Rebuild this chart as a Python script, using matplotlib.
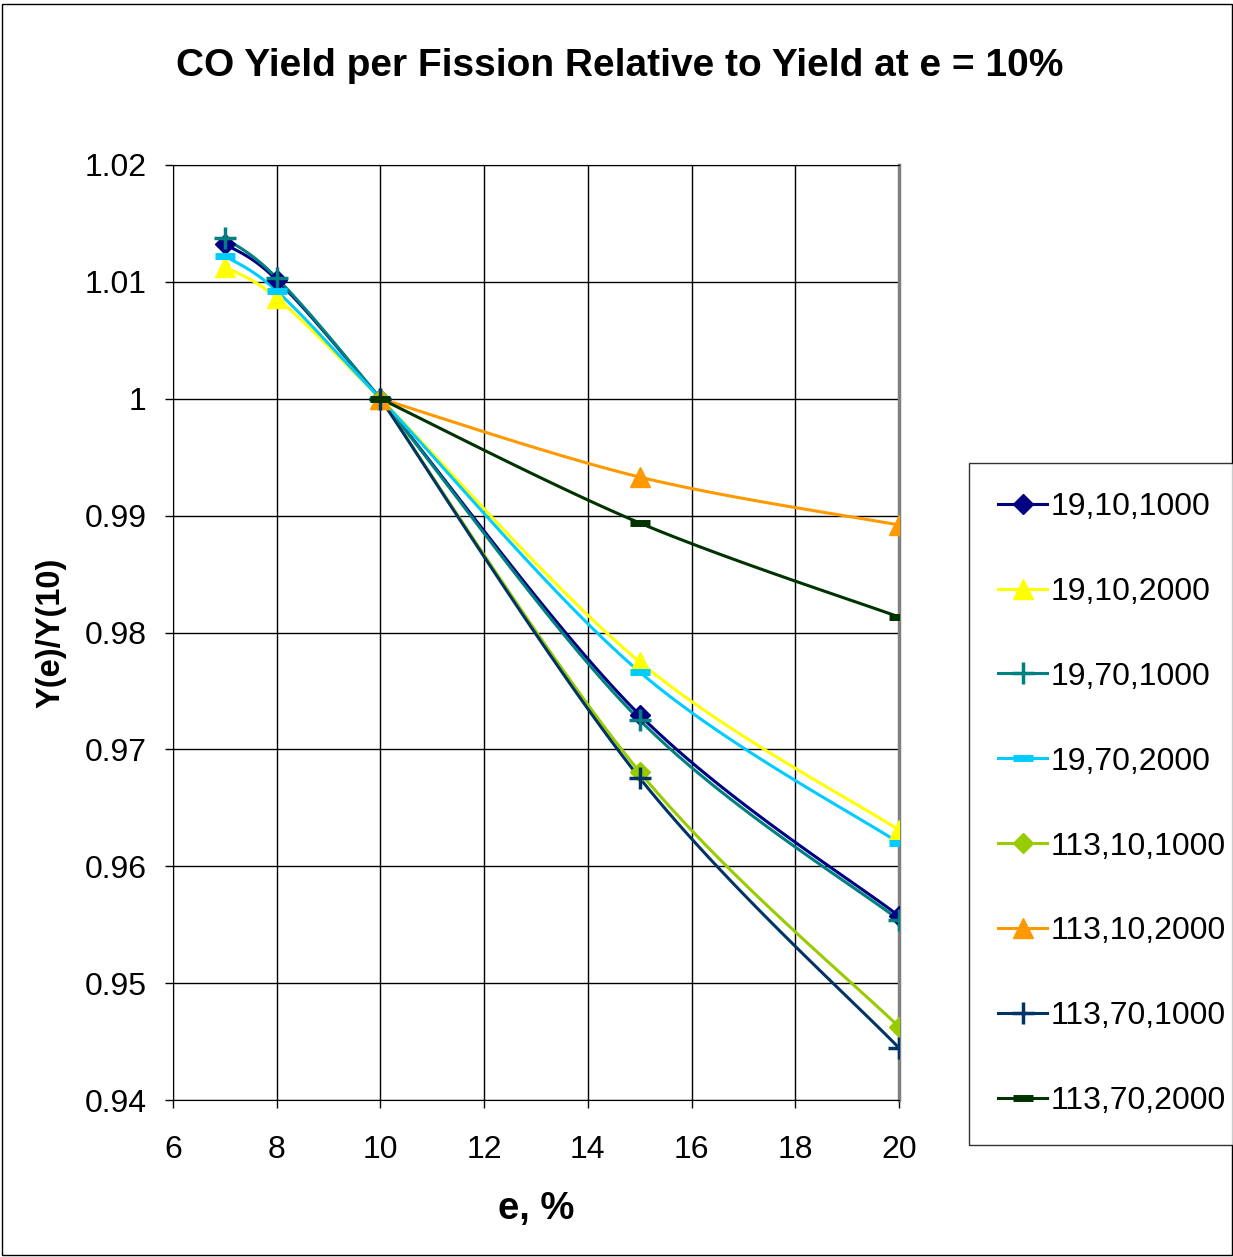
import matplotlib

matplotlib.use("Agg")
import matplotlib.pyplot as plt
import numpy as np
from matplotlib.patches import Rectangle

plt.rcParams["font.family"] = ["Liberation Sans", "DejaVu Sans"]

E_19 = [7, 8, 10, 15, 20]
E_113 = [10, 15, 20]

# relative CO yield Y(e)/Y(10)
Y_19_10_1000 = [1.01324, 1.01016, 1.0, 0.97294, 0.95574]
Y_19_10_2000 = [1.01127, 1.00862, 1.0, 0.97748, 0.96310]
Y_19_70_1000 = [1.01375, 1.01033, 1.0, 0.97251, 0.95540]
Y_19_70_2000 = [1.01221, 1.00922, 1.0, 0.97662, 0.96199]
Y_113_10_1000 = [1.0, 0.96806, 0.94625]
Y_113_10_2000 = [1.0, 0.99330, 0.98920]
Y_113_70_1000 = [1.0, 0.96755, 0.94445]
Y_113_70_2000 = [1.0, 0.98937, 0.98133]

SERIES = [
    ("19,10,1000", E_19, Y_19_10_1000, "#000080", "D", 10, 1),
    ("19,10,2000", E_19, Y_19_10_2000, "#FFFF00", "^", 14, 1),
    ("19,70,1000", E_19, Y_19_70_1000, "#008080", "+", 16, 2.5),
    ("19,70,2000", E_19, Y_19_70_2000, "#00CCFF", "_", 14, 5),
    ("113,10,1000", E_113, Y_113_10_1000, "#99CC00", "D", 10, 1),
    ("113,10,2000", E_113, Y_113_10_2000, "#FF9900", "^", 14, 1),
    ("113,70,1000", E_113, Y_113_70_1000, "#003366", "+", 16, 2.5),
    ("113,70,2000", E_113, Y_113_70_2000, "#003300", "_", 14, 5),
]

XLIM = (6, 20)
YLIM = (0.94, 1.02)


def smooth(x, y, n=30):
    """Catmull-Rom through the points, done in axis-normalised space."""
    pts = np.column_stack([(np.asarray(x) - XLIM[0]) / (XLIM[1] - XLIM[0]),
                           (np.asarray(y) - YLIM[0]) / (YLIM[1] - YLIM[0])])
    if len(pts) < 3:
        return np.asarray(x), np.asarray(y)
    p = np.vstack([pts[0], pts, pts[-1]])
    out = []
    t = np.linspace(0, 1, n)[:, None]
    for i in range(1, len(p) - 2):
        p0, p1, p2, p3 = p[i - 1], p[i], p[i + 1], p[i + 2]
        out.append(0.5 * ((2 * p1) + (-p0 + p2) * t
                          + (2 * p0 - 5 * p1 + 4 * p2 - p3) * t**2
                          + (-p0 + 3 * p1 - 3 * p2 + p3) * t**3))
    out = np.vstack(out)
    return (out[:, 0] * (XLIM[1] - XLIM[0]) + XLIM[0],
            out[:, 1] * (YLIM[1] - YLIM[0]) + YLIM[0])


fig = plt.figure(figsize=(12.33, 12.57), dpi=100)
W, H = 1233, 1257
ax = fig.add_axes([173 / W, 1 - 1100 / H, (899 - 173) / W, (1100 - 165) / H])

handles = []
for label, xs, ys, color, marker, ms, mew in SERIES:
    sx, sy = smooth(xs, ys)
    ax.plot(sx, sy, color=color, lw=2.2, zorder=3)
    ax.plot(xs, ys, ls="none", marker=marker, ms=ms, color=color,
            markeredgewidth=mew, markeredgecolor=color, zorder=4)
    handles.append(plt.Line2D([], [], color=color, lw=2.2, marker=marker,
                              ms=ms, markeredgewidth=mew, markeredgecolor=color,
                              label=label))

ax.set_xlim(*XLIM)
ax.set_ylim(*YLIM)
ax.set_xticks(np.arange(6, 21, 2))
ax.set_yticks(np.arange(0.94, 1.0201, 0.01))
ax.set_yticklabels(["0.94", "0.95", "0.96", "0.97", "0.98", "0.99", "1", "1.01", "1.02"])
ax.grid(True, color="black", lw=1.0)
ax.set_axisbelow(True)
for side in ("left", "bottom", "top"):
    ax.spines[side].set_color("black")
ax.spines["right"].set_color("#808080")
ax.spines["right"].set_linewidth(2.5)
ax.tick_params(labelsize=23, length=6, width=1, direction="out")
ax.tick_params(axis="y", pad=13)
ax.tick_params(axis="x", pad=19)

ax.set_xlabel("e, %", fontsize=27.5, fontweight="bold", labelpad=19)
ax.set_ylabel("Y(e)/Y(10)", fontsize=23.5, fontweight="bold", labelpad=13)
fig.suptitle("CO Yield per Fission Relative to Yield at e = 10%",
             x=620 / W, y=1 - 48 / H, fontsize=28, fontweight="bold")

leg = fig.legend(handles=handles, loc="upper left",
                 bbox_to_anchor=(969 / W, 1 - 463 / H), fontsize=23,
                 frameon=True, fancybox=False, edgecolor="black",
                 handlelength=1.55, handletextpad=0.12, labelspacing=1.72,
                 borderpad=0.9, borderaxespad=0)
leg.get_frame().set_linewidth(1.0)

fig.patches.append(Rectangle((2 / W, 2 / H), 1 - 3 / W, 1 - 6 / H,
                             transform=fig.transFigure, fill=False,
                             edgecolor="black", lw=1))

fig.savefig("out.png", dpi=100)
